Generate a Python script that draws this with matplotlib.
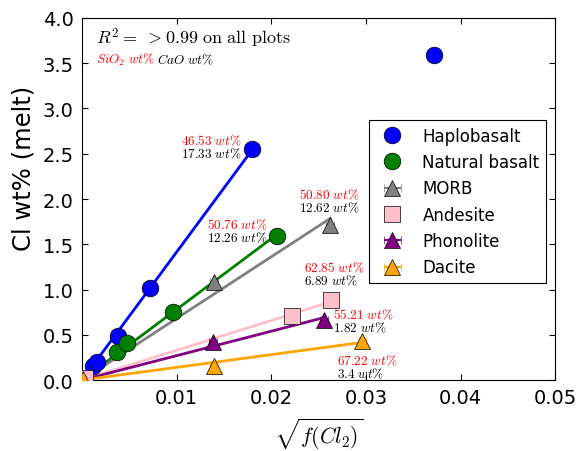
import numpy as np
import matplotlib
matplotlib.use("Agg")
import matplotlib.pyplot as plt

plt.rcParams['mathtext.fontset'] = 'cm'

# sqrt(f(Cl2)) and Cl wt% in melt
haplo_x = [0.00113, 0.00155, 0.0038, 0.00719, 0.01794]
haplo_y = [0.158, 0.199, 0.49, 1.013, 2.552]
haplo_out_x = [0.03714]
haplo_out_y = [3.594]

natural_x = [0.00367, 0.00479, 0.00965, 0.02058]
natural_y = [0.313, 0.409, 0.755, 1.594]

morb_x = [0.01395, 0.02622]
morb_y = [1.086, 1.713]
morb_xerr = [0.0004, 0.0004]

andesite_x = [0.0003, 0.02217, 0.02629]
andesite_y = [0.02, 0.704, 0.887]

phono_x = [0.01382, 0.02558]
phono_y = [0.417, 0.666]
phono_xerr = [0.0004, 0.0004]

dacite_x = [0.0001, 0.01395, 0.02963]
dacite_y = [0.01, 0.158, 0.434]
dacite_xerr = [0.0004, 0.0004, 0.0004]

# SiO2 / CaO labels per composition
sio2_labels = ['46.53', '50.80', '50.76', '62.85', '55.21', '67.22']
cao_labels = ['17.33', '12.62', '12.26', '6.89', '1.82', '3.4']
label_x = [0.01047, 0.02294, 0.01321, 0.02347, 0.02653, 0.02696]
label_y = [2.652, 2.055, 1.724, 1.249, 0.729, 0.221]


def fit_line(ax, xs, ys, color):
    xs = np.asarray(xs)
    ys = np.asarray(ys)
    slope = np.sum(xs * ys) / np.sum(xs * xs)
    xx = np.array([0.0, xs.max()])
    ax.plot(xx, slope * xx, '-', color=color, lw=2, zorder=2)


fig = plt.figure(figsize=(5.82, 4.52), dpi=100)
ax = fig.add_axes([0.141, 0.157, 0.813, 0.801])

fit_line(ax, haplo_x, haplo_y, 'blue')
fit_line(ax, natural_x, natural_y, 'green')
fit_line(ax, morb_x, morb_y, 'grey')
fit_line(ax, andesite_x, andesite_y, 'pink')
fit_line(ax, phono_x, phono_y, 'purple')
fit_line(ax, dacite_x, dacite_y, 'orange')

handles = []
h, = ax.plot(haplo_x + haplo_out_x, haplo_y + haplo_out_y, 'o', color='blue',
             mec='k', mew=0.5, ms=12, label='Haplobasalt', zorder=3)
handles.append(h)
h, = ax.plot(natural_x, natural_y, 'o', color='green', mec='k', mew=0.5,
             ms=12, label='Natural basalt', zorder=3)
handles.append(h)
h = ax.errorbar(morb_x, morb_y, xerr=morb_xerr, fmt='^', color='grey',
                mec='k', mew=0.5, ms=11, capsize=3, label='MORB', zorder=3)
handles.append(h)
h, = ax.plot(andesite_x, andesite_y, 's', color='pink', mec='k', mew=0.5,
             ms=11, label='Andesite', zorder=3)
handles.append(h)
h = ax.errorbar(phono_x, phono_y, xerr=phono_xerr, fmt='^', color='purple',
                mec='k', mew=0.5, ms=11, capsize=3, label='Phonolite',
                zorder=3)
handles.append(h)
h = ax.errorbar(dacite_x, dacite_y, xerr=dacite_xerr, fmt='^',
                color='orange', mec='k', mew=0.5, ms=11, capsize=3,
                label='Dacite', zorder=3)
handles.append(h)

for i in range(len(sio2_labels)):
    ax.text(label_x[i], label_y[i], r'$' + sio2_labels[i] + r'\ wt\%$',
            color='red', fontsize=9.5, ha='left', va='center')
    ax.text(label_x[i], label_y[i] - 0.145, r'$' + cao_labels[i] + r'\ wt\%$',
            color='k', fontsize=9.5, ha='left', va='center')

ax.text(0.030, 0.947, r'$R^2 =\ >0.99\ \mathrm{on\ all\ plots}$',
        transform=ax.transAxes, fontsize=13, ha='left', va='center')
ax.text(0.030, 0.887, r'$SiO_2\ wt\%$', transform=ax.transAxes,
        color='red', fontsize=9.5, ha='left', va='center')
ax.text(0.159, 0.887, r'$CaO\ wt\%$', transform=ax.transAxes,
        color='k', fontsize=9.5, ha='left', va='center')

ax.set_xlim(0, 0.05)
ax.set_ylim(0, 4.0)
ax.set_xticks([0.01, 0.02, 0.03, 0.04, 0.05])
ax.set_yticks(np.arange(0, 4.01, 0.5))
ax.tick_params(direction='in', top=True, right=True, labelsize=14,
               length=4, pad=6)
ax.set_xlabel(r'$\sqrt{f(Cl_2)}$', fontsize=15.5)
ax.xaxis.set_label_coords(0.5, -0.097)
ax.set_ylabel('Cl wt% (melt)', fontsize=17.5)
ax.yaxis.set_label_coords(-0.099, 0.588)

leg = ax.legend(handles=handles, loc='upper right',
                bbox_to_anchor=(0.981, 0.718), borderaxespad=0, numpoints=1,
                fontsize=12, fancybox=False, edgecolor='k', framealpha=1)
leg.get_frame().set_linewidth(0.8)

fig.savefig('out.png', dpi=100)
